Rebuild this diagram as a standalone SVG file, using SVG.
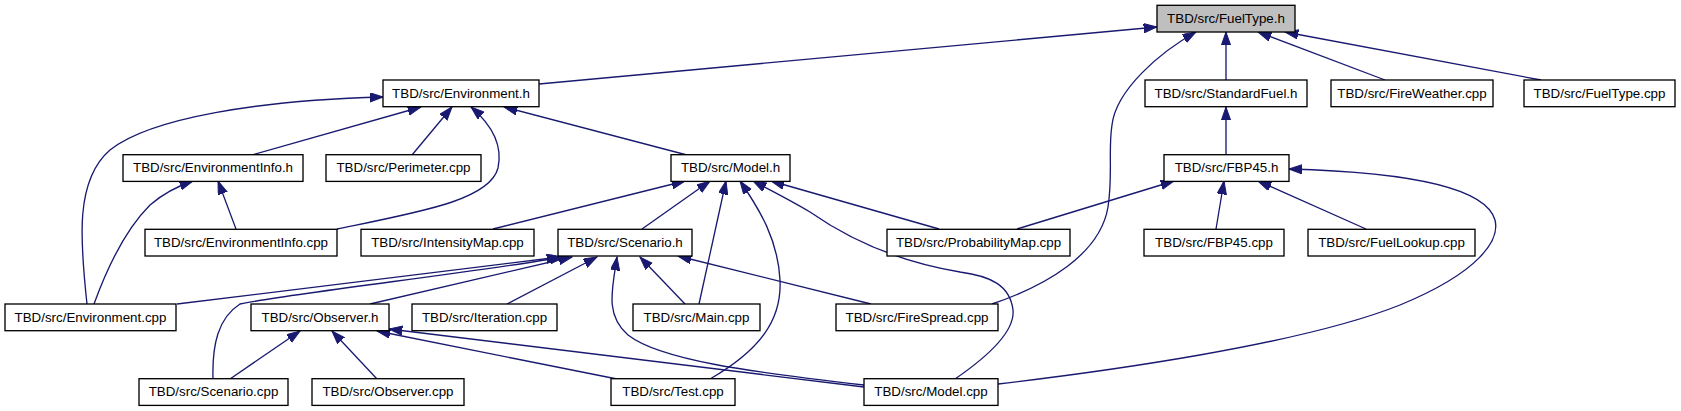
<svg xmlns="http://www.w3.org/2000/svg" width="1681" height="411" viewBox="0 0 1681 411">
<style>
.n rect{fill:#fff;stroke:#000;stroke-width:1.33}
.n.root rect{fill:#bfbfbf}
.n text{font-family:"Liberation Sans",Arial,sans-serif;font-size:13.33px;fill:#000;text-anchor:middle}
.e path{fill:none;stroke:#191970;stroke-width:1.33;marker-end:url(#ah)}
</style>
<defs>
<marker id="ah" markerUnits="userSpaceOnUse" markerWidth="14" markerHeight="10" refX="13.3" refY="4.67" orient="auto">
<path d="M0,0 L13.3,4.67 L0,9.33 z" fill="#191970" stroke="#191970" stroke-width="1"/>
</marker>
</defs>
<rect width="1681" height="411" fill="#fff"/>
<g id="edges" class="e">
<path d="M539,84 L1157,27"/>
<path d="M1226,80 L1226,32"/>
<path d="M1385,80 L1258,32"/>
<path d="M1541,80 L1285,32"/>
<path d="M992,304 C1045,286 1100,255 1108,207 C1113,175 1108,150 1112,125 C1116,90 1160,52 1196,32"/>
<path d="M1226,155 L1226,107"/>
<path d="M252,155 L421,107"/>
<path d="M412,155 L452,107"/>
<path d="M337,229 C420,212 490,200 498,168 C503,145 492,125 471,107"/>
<path d="M687,155 L504,107"/>
<path d="M87,304 C80,240 75,180 110,150 C150,118 260,100 383,97"/>
<path d="M94,304 C110,260 130,225 150,205 C165,192 178,186 193,181"/>
<path d="M236,229 L218,181"/>
<path d="M493,229 L685,181"/>
<path d="M642,229 L710,181"/>
<path d="M699,304 L726,181"/>
<path d="M710,379 C760,350 782,320 780,280 C778,240 760,210 740,181"/>
<path d="M955,379 C990,355 1015,330 1013,310 C1010,285 990,276 960,272 C900,262 850,240 810,212 C790,200 770,190 753,181"/>
<path d="M939,229 L771,181"/>
<path d="M1017,229 L1174,181"/>
<path d="M1216,229 L1224,181"/>
<path d="M1366,229 L1258,181"/>
<path d="M998,384 C1100,372 1300,345 1400,305 C1480,272 1500,240 1495,220 C1485,185 1400,172 1289,169"/>
<path d="M177,304 L560,257"/>
<path d="M213,379 C212,345 218,318 240,304 C300,292 480,272 563,257"/>
<path d="M370,304 L572,257"/>
<path d="M507,304 L597,257"/>
<path d="M864,385 C750,372 660,360 628,335 C605,315 612,290 617,257"/>
<path d="M685,304 L640,257"/>
<path d="M871,304 L678,256"/>
<path d="M230,379 L300,331"/>
<path d="M377,379 L332,331"/>
<path d="M617,379 L377,331"/>
<path d="M864,387 L389,329"/>
</g>
<g id="n_FuelType_h" class="n root"><rect x="1157" y="5.3" width="138" height="26.7"/><text x="1226" y="23">TBD/src/FuelType.h</text></g>
<g id="n_Environment_h" class="n"><rect x="383" y="80" width="156" height="26.7"/><text x="461" y="97.7">TBD/src/Environment.h</text></g>
<g id="n_StandardFuel_h" class="n"><rect x="1145" y="80" width="162" height="26.7"/><text x="1226" y="97.7">TBD/src/StandardFuel.h</text></g>
<g id="n_FireWeather_cpp" class="n"><rect x="1331" y="80" width="162" height="26.7"/><text x="1412" y="97.7">TBD/src/FireWeather.cpp</text></g>
<g id="n_FuelType_cpp" class="n"><rect x="1524" y="80" width="151" height="26.7"/><text x="1599.5" y="97.7">TBD/src/FuelType.cpp</text></g>
<g id="n_EnvironmentInfo_h" class="n"><rect x="123" y="154.7" width="180" height="26.7"/><text x="213" y="172.4">TBD/src/EnvironmentInfo.h</text></g>
<g id="n_Perimeter_cpp" class="n"><rect x="326" y="154.7" width="155" height="26.7"/><text x="403.5" y="172.4">TBD/src/Perimeter.cpp</text></g>
<g id="n_Model_h" class="n"><rect x="671" y="154.7" width="119" height="26.7"/><text x="730.5" y="172.4">TBD/src/Model.h</text></g>
<g id="n_FBP45_h" class="n"><rect x="1164" y="154.7" width="125" height="26.7"/><text x="1226.5" y="172.4">TBD/src/FBP45.h</text></g>
<g id="n_EnvironmentInfo_cpp" class="n"><rect x="145" y="229.3" width="192" height="26.7"/><text x="241" y="247">TBD/src/EnvironmentInfo.cpp</text></g>
<g id="n_IntensityMap_cpp" class="n"><rect x="361" y="229.3" width="173" height="26.7"/><text x="447.5" y="247">TBD/src/IntensityMap.cpp</text></g>
<g id="n_Scenario_h" class="n"><rect x="558" y="229.3" width="134" height="26.7"/><text x="625" y="247">TBD/src/Scenario.h</text></g>
<g id="n_ProbabilityMap_cpp" class="n"><rect x="887" y="229.3" width="183" height="26.7"/><text x="978.5" y="247">TBD/src/ProbabilityMap.cpp</text></g>
<g id="n_FBP45_cpp" class="n"><rect x="1144" y="229.3" width="140" height="26.7"/><text x="1214" y="247">TBD/src/FBP45.cpp</text></g>
<g id="n_FuelLookup_cpp" class="n"><rect x="1308" y="229.3" width="167" height="26.7"/><text x="1391.5" y="247">TBD/src/FuelLookup.cpp</text></g>
<g id="n_Environment_cpp" class="n"><rect x="5" y="304" width="171" height="26.7"/><text x="90.5" y="321.7">TBD/src/Environment.cpp</text></g>
<g id="n_Observer_h" class="n"><rect x="251" y="304" width="138" height="26.7"/><text x="320" y="321.7">TBD/src/Observer.h</text></g>
<g id="n_Iteration_cpp" class="n"><rect x="412" y="304" width="145" height="26.7"/><text x="484.5" y="321.7">TBD/src/Iteration.cpp</text></g>
<g id="n_Main_cpp" class="n"><rect x="633" y="304" width="127" height="26.7"/><text x="696.5" y="321.7">TBD/src/Main.cpp</text></g>
<g id="n_FireSpread_cpp" class="n"><rect x="836" y="304" width="162" height="26.7"/><text x="917" y="321.7">TBD/src/FireSpread.cpp</text></g>
<g id="n_Scenario_cpp" class="n"><rect x="139" y="378.7" width="149" height="26.7"/><text x="213.5" y="396.4">TBD/src/Scenario.cpp</text></g>
<g id="n_Observer_cpp" class="n"><rect x="312" y="378.7" width="152" height="26.7"/><text x="388" y="396.4">TBD/src/Observer.cpp</text></g>
<g id="n_Test_cpp" class="n"><rect x="611" y="378.7" width="124" height="26.7"/><text x="673" y="396.4">TBD/src/Test.cpp</text></g>
<g id="n_Model_cpp" class="n"><rect x="864" y="378.7" width="134" height="26.7"/><text x="931" y="396.4">TBD/src/Model.cpp</text></g>
</svg>
